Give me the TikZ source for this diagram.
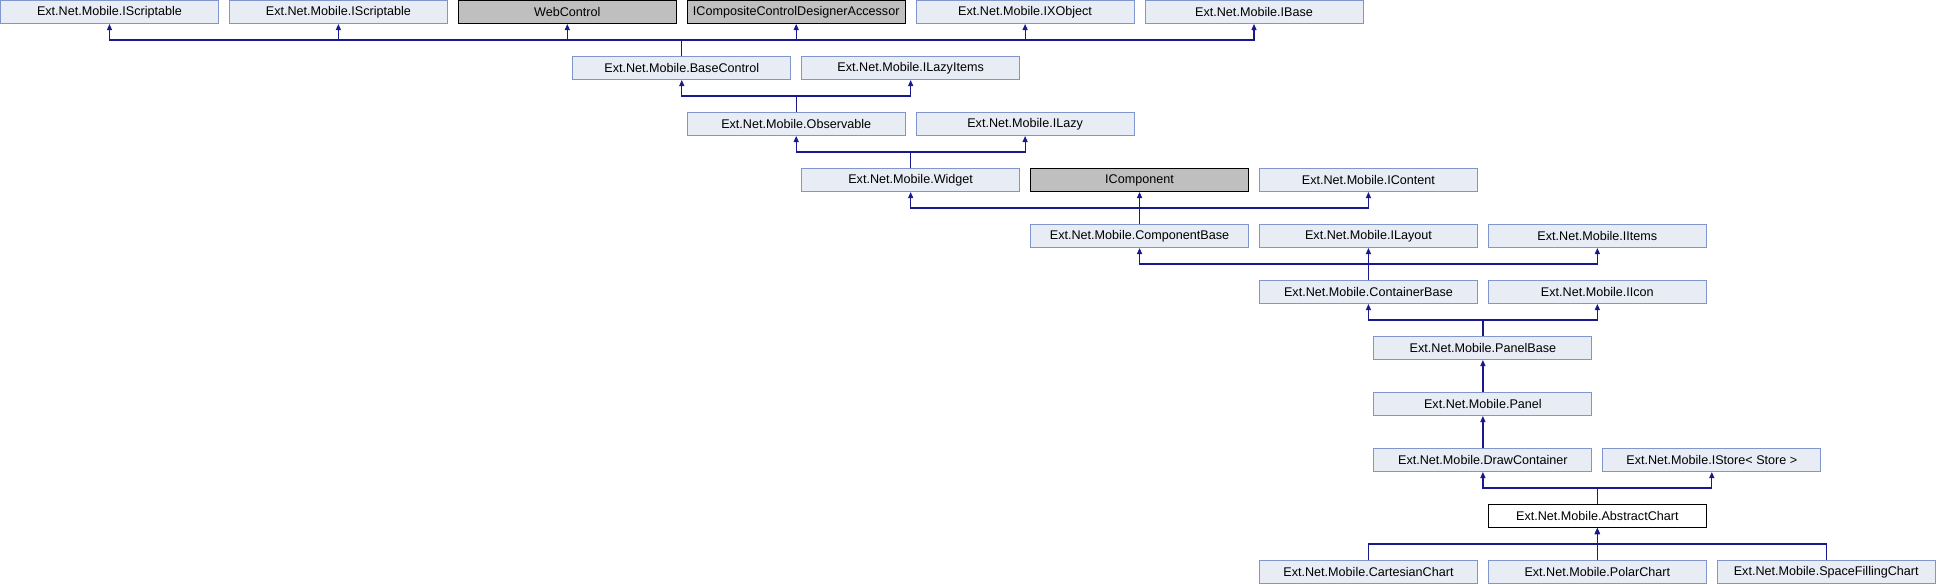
\documentclass[tikz,border=0pt]{standalone}
\usepackage{fontspec}
\setmainfont{Liberation Sans}
\usepackage{tikz}
\usetikzlibrary{arrows.meta}
\usetikzlibrary{positioning}
\definecolor{nodefill}{RGB}{232,236,245}
\definecolor{nodeline}{RGB}{128,150,204}
\definecolor{extgray}{RGB}{191,191,191}
\definecolor{edgeblue}{RGB}{25,25,140}
\tikzset{cls/.style = {draw=nodeline, fill=nodefill, line width=1pt,
                       minimum width=218pt, minimum height=23pt, inner sep=0pt,
                       font=\fontsize{12.6}{14}\selectfont},
         extcls/.style = {cls, draw=black, fill=extgray},
         rootcls/.style = {cls, draw=black, fill=white},
         inh/.style = {draw=edgeblue, line width=1.2pt,
                       -{Triangle[length=6pt, width=5pt]}}}

\begin{document}
\begin{tikzpicture}[x=228.9pt, y=56pt]
      \useasboundingbox (-109.5pt, 12pt) rectangle (1826.5pt, -572pt);

      % top row
      \node [cls] (is1) at (0, 0) {Ext.Net.Mobile.IScriptable};
      \node [cls] (is2) at (1, 0) {Ext.Net.Mobile.IScriptable};
      \node [extcls] (web) at (2, 0) {WebControl};
      \node [extcls] (icd) at (3, 0) {ICompositeControlDesignerAccessor};
      \node [cls] (ixo) at (4, 0) {Ext.Net.Mobile.IXObject};
      \node [cls] (ibase) at (5, 0) {Ext.Net.Mobile.IBase};

      \node [cls] (bc) at (2.5, -1) {Ext.Net.Mobile.BaseControl};
      \node [cls] (ilit) at (3.5, -1) {Ext.Net.Mobile.ILazyItems};

      \node [cls] (obs) at (3, -2) {Ext.Net.Mobile.Observable};
      \node [cls] (ilazy) at (4, -2) {Ext.Net.Mobile.ILazy};

      \node [cls] (wid) at (3.5, -3) {Ext.Net.Mobile.Widget};
      \node [extcls] (icomp) at (4.5, -3) {IComponent};
      \node [cls] (icont) at (5.5, -3) {Ext.Net.Mobile.IContent};

      \node [cls] (cb) at (4.5, -4) {Ext.Net.Mobile.ComponentBase};
      \node [cls] (ilay) at (5.5, -4) {Ext.Net.Mobile.ILayout};
      \node [cls] (iit) at (6.5, -4) {Ext.Net.Mobile.IItems};

      \node [cls] (ctb) at (5.5, -5) {Ext.Net.Mobile.ContainerBase};
      \node [cls] (iic) at (6.5, -5) {Ext.Net.Mobile.IIcon};

      \node [cls] (pb) at (6, -6) {Ext.Net.Mobile.PanelBase};
      \node [cls] (pan) at (6, -7) {Ext.Net.Mobile.Panel};

      \node [cls] (dc) at (6, -8) {Ext.Net.Mobile.DrawContainer};
      \node [cls] (ist) at (7, -8) {Ext.Net.Mobile.IStore< Store >};

      \node [rootcls] (ac) at (6.5, -9) {Ext.Net.Mobile.AbstractChart};

      % derived charts
      \node [cls] (cart) at (5.5, -10) {Ext.Net.Mobile.CartesianChart};
      \node [cls] (pol) at (6.5, -10) {Ext.Net.Mobile.PolarChart};
      \node [cls] (sfc) at (7.5, -10) {Ext.Net.Mobile.SpaceFillingChart};

      \foreach \c/\p in {bc/is1, bc/is2, bc/web, bc/icd, bc/ixo, bc/ibase,
                         obs/bc, obs/ilit, wid/obs, wid/ilazy,
                         cb/wid, cb/icomp, cb/icont,
                         ctb/cb, ctb/ilay, ctb/iit, pb/ctb, pb/iic,
                         pan/pb, dc/pan, ac/dc, ac/ist,
                         cart/ac, pol/ac, sfc/ac}
        \draw [inh] (\c.north) -- ++(0, 16pt) -| (\p.south);
    \end{tikzpicture}
\end{document}
